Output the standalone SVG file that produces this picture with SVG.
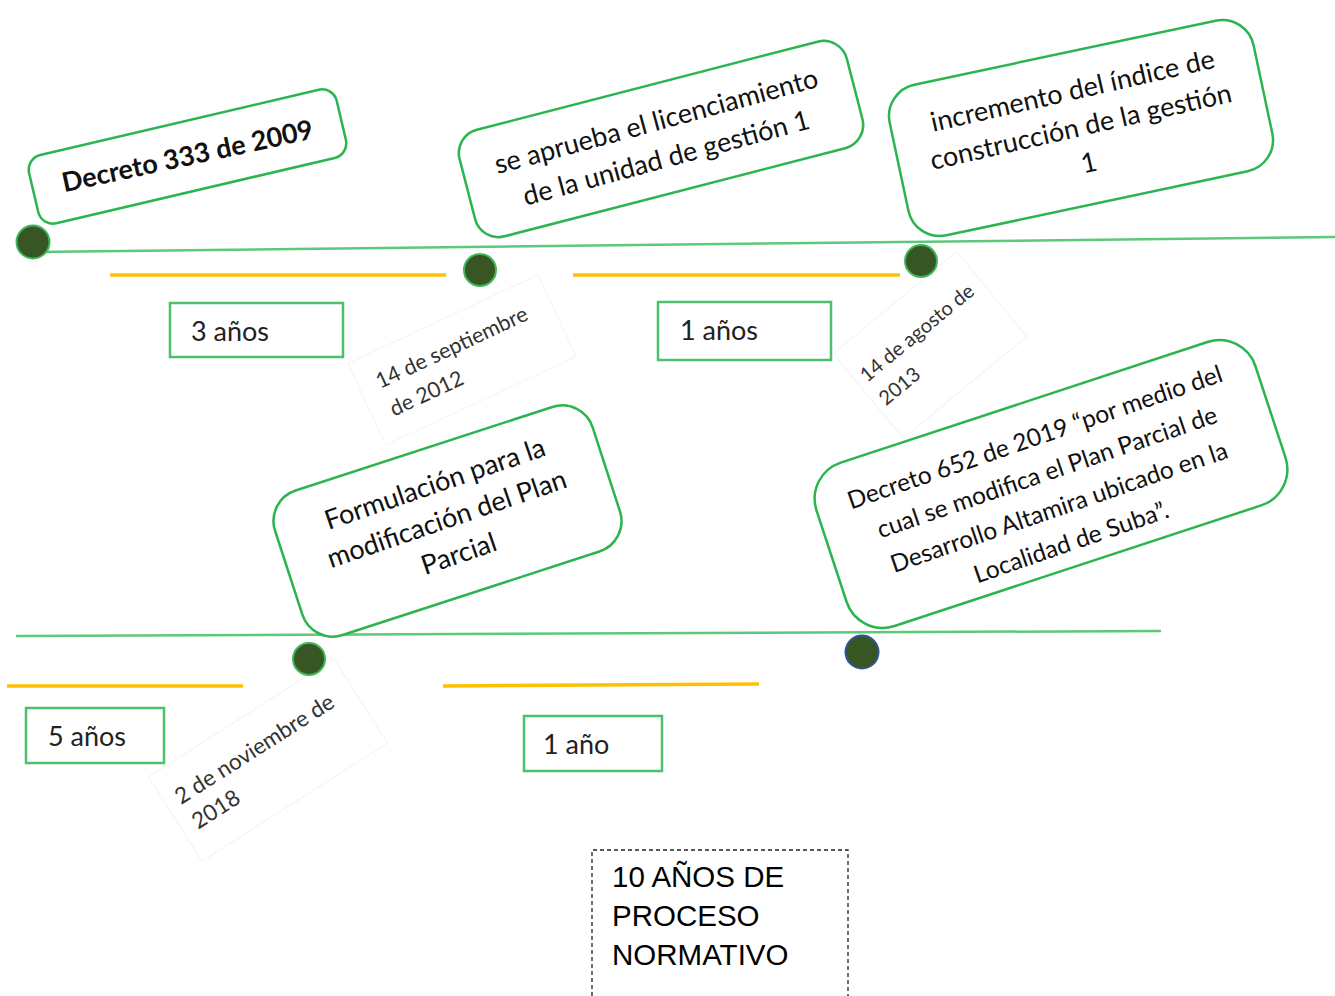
<svg xmlns="http://www.w3.org/2000/svg" width="1335" height="996" viewBox="0 0 1335 996">
<style>
.box{fill:#fff;stroke:#2cb44e;stroke-width:2.5}
.lbl{fill:#fff;stroke:#4cc06c;stroke-width:2.5}
.t{font-family:Lato,"Open Sans",sans-serif;fill:#111;text-anchor:middle}
.l{font-family:Lato,"Open Sans",sans-serif;fill:#222;font-size:27px}
.d{font-family:Lato,"Open Sans",sans-serif;fill:#333}
.tl{stroke:#5cc87a;stroke-width:2.5;fill:none}
.yl{stroke:#ffc000;stroke-width:3.5}
.dot{fill:#375623;stroke:#3cb75a;stroke-width:2}
.faint{fill:none;stroke:#f3f3f3;stroke-width:1}
.s{font-family:"Liberation Sans",Arial,sans-serif;font-size:29.5px;fill:#000}
</style>
<rect width="1335" height="996" fill="#fff"/>
<g id="connectors">
<line class="tl" x1="33" y1="252" x2="1335" y2="237"/>
<line class="tl" x1="16" y1="636" x2="1161" y2="631"/>
<line class="yl" x1="110" y1="275" x2="446" y2="275"/>
<line class="yl" x1="573" y1="275" x2="900" y2="275"/>
<line class="yl" x1="7" y1="686" x2="243" y2="686"/>
<line class="yl" x1="443" y1="686" x2="759" y2="684"/>
</g>
<g id="date-2012">
<rect class="faint" x="-105" y="-45" width="210" height="90" transform="translate(462,360) rotate(-25)"/>
<g transform="translate(380,389) rotate(-25)"><text class="d" font-size="21.5" x="0" y="0">14 de septiembre</text><text class="d" font-size="21.5" x="1" y="31">de 2012</text></g>
</g>
<g id="date-2013">
<rect class="faint" x="-80" y="-55" width="160" height="110" transform="translate(930,345) rotate(-39.5)"/>
<g transform="translate(867,383) rotate(-39.5)"><text class="d" font-size="20" x="0" y="0">14 de agosto de</text><text class="d" font-size="20" x="0" y="30">2013</text></g>
</g>
<g id="date-2018">
<rect class="faint" x="-110" y="-50" width="220" height="100" transform="translate(268,760) rotate(-32.5)"/>
<g transform="translate(181,805) rotate(-32.5)"><text class="d" font-size="22.5" x="0" y="0">2 de noviembre de</text><text class="d" font-size="22.5" x="1" y="30">2018</text></g>
</g>
<g id="box-decreto333" transform="translate(187.5,156.5) rotate(-13.2)">
<rect class="box" x="-158" y="-35" width="316" height="70" rx="15"/>
<text class="t" x="0" y="9" font-size="27" font-weight="bold" transform="rotate(1)">Decreto 333 de 2009</text>
</g>
<g id="box-licenciamiento" transform="translate(661,139) rotate(-14.5)">
<rect class="box" x="-200" y="-55" width="400" height="110" rx="24"/>
<g transform="rotate(-0.7)">
<text class="t" x="0" y="-9" font-size="27">se aprueba el licenciamiento</text>
<text class="t" x="0" y="29" font-size="27">de la unidad de gestión 1</text>
</g>
</g>
<g id="box-incremento" transform="translate(1081,128) rotate(-12)">
<rect class="box" x="-186" y="-77" width="372" height="154" rx="32"/>
<g transform="rotate(-0.8)">
<text class="t" x="0" y="-29" font-size="27">incremento del índice de</text>
<text class="t" x="0" y="8" font-size="27">construcción de la gestión</text>
<text class="t" x="0" y="45" font-size="27">1</text>
</g>
</g>
<g id="box-formulacion" transform="translate(447.5,521) rotate(-18)">
<rect class="box" x="-167" y="-76" width="334" height="152" rx="32"/>
<g transform="rotate(-0.9)">
<text class="t" x="0" y="-30" font-size="27">Formulación para la</text>
<text class="t" x="0" y="7" font-size="27">modificación del Plan</text>
<text class="t" x="0" y="44" font-size="27">Parcial</text>
</g>
</g>
<g id="box-decreto652" transform="translate(1051,484) rotate(-18.2)">
<rect class="box" x="-231" y="-86" width="462" height="172" rx="38"/>
<g transform="rotate(-0.8)">
<text class="t" x="0" y="-41" font-size="24.5">Decreto 652 de 2019 “por medio del</text>
<text class="t" x="0" y="-4" font-size="24.5">cual se modifica el Plan Parcial de</text>
<text class="t" x="0" y="33" font-size="24.5">Desarrollo Altamira ubicado en la</text>
<text class="t" x="0" y="70" font-size="24.5">Localidad de Suba”.</text>
</g>
</g>
<g id="dots">
<circle class="dot" cx="33" cy="242" r="16.5"/>
<circle class="dot" cx="480" cy="270" r="16"/>
<circle class="dot" cx="921" cy="261" r="16"/>
<circle class="dot" cx="309" cy="659" r="16"/>
<circle cx="862" cy="652" r="16.5" fill="#375623" stroke="#2f5597" stroke-width="2"/>
</g>
<g id="lbl-3anos"><rect class="lbl" x="170" y="303" width="173" height="54"/><text class="l" x="191" y="341">3 años</text></g>
<g id="lbl-1anos"><rect class="lbl" x="658" y="302" width="173" height="58"/><text class="l" x="680" y="340">1 años</text></g>
<g id="lbl-5anos"><rect class="lbl" x="26" y="708" width="138" height="55"/><text class="l" x="48" y="746">5 años</text></g>
<g id="lbl-1ano"><rect class="lbl" x="524" y="716" width="138" height="55"/><text class="l" x="543" y="754">1 año</text></g>
<g id="summary">
<path d="M592,996 V850 H848 V996" fill="none" stroke="#222" stroke-width="1.3" stroke-dasharray="4,3"/>
<text class="s" x="612" y="887">10 AÑOS DE</text>
<text class="s" x="612" y="926">PROCESO</text>
<text class="s" x="612" y="965">NORMATIVO</text>
</g>
</svg>
